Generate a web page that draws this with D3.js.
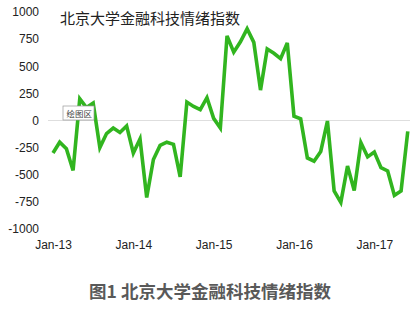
<!DOCTYPE html>
<html>
<head>
<meta charset="utf-8">
<script src="https://cdn.jsdelivr.net/npm/d3@7"></script>
<style>
  body { margin: 0; background: #fff; }
  svg { display: block; }
  .tick text { font-family: "Liberation Sans", Arial, sans-serif; font-size: 12px; fill: #222; }
</style>
</head>
<body>
<div id="chart"></div>
<script>
(function(d3) {
  "use strict";

  // données (mensuel, Jan-13 -> Jun-17)
  var indexValues = [
    -300, -200, -260, -460, 200, 120, 160, -250, -120, -70, -110, -50,
    -300, -170, -710, -360, -230, -200, -220, -520, 170, 130, 100, 210,
    20, -70, 780, 630, 725, 845, 720, 280, 660, 620, 570, 715,
    40, 15, -345, -375, -285, -5, -650, -755, -420, -645, -205, -335,
    -290, -435, -465, -690, -650, -100
  ];
  var yTicks = [1000, 750, 500, 250, 0, -250, -500, -750, -1000];
  var xTickMonths = [0, 12, 24, 36, 48];
  var xTickLabels = ["Jan-13", "Jan-14", "Jan-15", "Jan-16", "Jan-17"];
  var chartTitle = "北京大学金融科技情绪指数";
  var caption = "图1 北京大学金融科技情绪指数";

  var W = 415, H = 309;

  var svg = d3.select("#chart").append("svg")
    .attr("width", W)
    .attr("height", H);

  var x = d3.scaleLinear().domain([0, 48]).range([53, 374.3]);
  var y = d3.scaleLinear().domain([-1000, 1000]).range([229, 12]);

  // ligne du zéro
  svg.append("line")
    .attr("x1", 48).attr("x2", 410)
    .attr("y1", y(0)).attr("y2", y(0))
    .attr("stroke", "#dedede")
    .attr("stroke-width", 1);

  // axe y
  var yAxis = svg.append("g")
    .attr("transform", "translate(39,0)")
    .call(d3.axisLeft(y).tickValues(yTicks).tickSize(0).tickPadding(0)
      .tickFormat(function(d) { return String(d); }));
  yAxis.select(".domain").remove();

  // axe x
  var xAxis = svg.append("g")
    .attr("transform", "translate(0,237)")
    .call(d3.axisBottom(x).tickValues(xTickMonths).tickSize(0).tickPadding(3)
      .tickFormat(function(d, i) { return xTickLabels[i]; }));
  xAxis.select(".domain").remove();

  // courbe
  svg.append("path")
    .datum(indexValues)
    .attr("fill", "none")
    .attr("stroke", "#31b51f")
    .attr("stroke-width", 3.6)
    .attr("d", d3.line()
      .x(function(d, i) { return x(i); })
      .y(function(d) { return y(d); }));

  // titre
  svg.append("text")
    .attr("x", 60)
    .attr("y", 24)
    .attr("font-family", "Noto Sans CJK SC, sans-serif")
    .attr("font-size", 15)
    .attr("fill", "#222")
    .text(chartTitle);

  // étiquette "绘图区"
  var tip = svg.append("g").attr("transform", "translate(63,106)");
  tip.append("rect")
    .attr("width", 31).attr("height", 14)
    .attr("fill", "#fff")
    .attr("stroke", "#999")
    .attr("stroke-width", 0.7);
  tip.append("text")
    .attr("x", 3.5).attr("y", 10.5)
    .attr("font-family", "Noto Sans CJK SC, sans-serif")
    .attr("font-size", 8.5)
    .attr("fill", "#444")
    .text("绘图区");

  // légende de la figure
  svg.append("text")
    .attr("x", 210)
    .attr("y", 298)
    .attr("text-anchor", "middle")
    .attr("font-family", "Noto Sans CJK SC, sans-serif")
    .attr("font-weight", "bold")
    .attr("font-size", 17.5)
    .attr("fill", "#595959")
    .text(caption);

})(d3);
</script>
</body>
</html>
